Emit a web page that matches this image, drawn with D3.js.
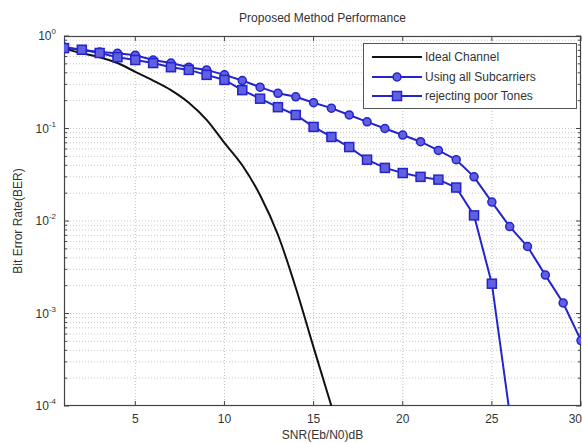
<!DOCTYPE html>
<html><head><meta charset="utf-8">
<script src="https://cdn.jsdelivr.net/npm/d3@7"></script>
<style>body{margin:0;background:#fff}svg{display:block}text{font-family:"Liberation Sans",Arial,sans-serif}</style>
</head><body><svg id="c" width="582" height="443"></svg>
<script>
const snr = d3.range(1, 31);
const ideal = [0.74,0.65,0.59,0.51,0.41,0.33,0.26,0.19,0.124,0.07,0.040,0.019,0.0071,0.0019,0.00043,0.0001];
const allSub = [0.76,0.71,0.67,0.65,0.62,0.55,0.51,0.46,0.43,0.38,0.33,0.28,0.24,0.22,0.19,0.166,0.14,0.118,0.10,0.085,0.072,0.058,0.046,0.030,0.016,0.0087,0.0053,0.0026,0.0013,0.00051];
const rejTones = [0.74,0.71,0.655,0.59,0.55,0.51,0.46,0.43,0.38,0.335,0.26,0.21,0.17,0.14,0.104,0.081,0.063,0.046,0.0375,0.033,0.030,0.028,0.023,0.0115,0.0021,0.000083];
const xTicks = [5,10,15,20,25,30];
const yTicks = [1,0.1,0.01,0.001,0.0001];
const legendLabels = ["Ideal Channel","Using all Subcarriers","rejecting poor Tones"];
const titleText = "Proposed Method Performance";
const xLabel = "SNR(Eb/N0)dB";
const yLabel = "Bit Error Rate(BER)";

const svg = d3.select("#c");
const L=64, R=581, T=36, B=406;
const x = d3.scaleLinear().domain([1,30]).range([L,R]);
const y = d3.scaleLog().domain([1e-4,1]).range([B,T]);
const blue = "#2424cc";

svg.append("defs").append("clipPath").attr("id","clip").append("rect")
  .attr("x",L).attr("y",T).attr("width",R-L).attr("height",B-T);

// grid
const g = svg.append("g");
const minor = [];
for (let e=-4;e<0;e++) for (let m=2;m<=9;m++) minor.push(m*Math.pow(10,e));
g.selectAll(".hm").data(minor).join("line")
  .attr("x1",L).attr("x2",R).attr("y1",d=>y(d)).attr("y2",d=>y(d))
  .attr("stroke","#c8c8c8").attr("stroke-width",1).attr("stroke-dasharray","1,2");
g.selectAll(".hM").data(yTicks.slice(1,-1)).join("line")
  .attr("x1",L).attr("x2",R).attr("y1",d=>y(d)).attr("y2",d=>y(d))
  .attr("stroke","#c8c8c8").attr("stroke-width",1).attr("stroke-dasharray","1,2");
g.selectAll(".vM").data(xTicks.slice(0,-1)).join("line")
  .attr("y1",T).attr("y2",B).attr("x1",d=>x(d)).attr("x2",d=>x(d))
  .attr("stroke","#c0c0c0").attr("stroke-width",1).attr("stroke-dasharray","1,2");

// axes box & ticks
const ax = svg.append("g");
ax.append("rect").attr("x",L+0.5).attr("y",T+0.5).attr("width",R-L-1).attr("height",B-T-1)
  .attr("fill","none").attr("stroke","#444").attr("stroke-width",1.2);
xTicks.forEach(t=>{
  ax.append("line").attr("x1",x(t)).attr("x2",x(t)).attr("y1",B).attr("y2",B-5).attr("stroke","#444");
  ax.append("line").attr("x1",x(t)).attr("x2",x(t)).attr("y1",T).attr("y2",T+5).attr("stroke","#444");
  const last = t===xTicks[xTicks.length-1];
  ax.append("text").attr("x",last?582:x(t)).attr("y",B+17).attr("text-anchor",last?"end":"middle")
    .attr("font-size",12).attr("fill","#333").text(t);
});
minor.concat(yTicks).forEach(t=>{
  const len = yTicks.includes(t)?5:3;
  ax.append("line").attr("x1",L).attr("x2",L+len).attr("y1",y(t)).attr("y2",y(t)).attr("stroke","#444");
  ax.append("line").attr("x1",R).attr("x2",R-len).attr("y1",y(t)).attr("y2",y(t)).attr("stroke","#444");
});
yTicks.forEach(t=>{
  const e = Math.round(Math.log10(t));
  const tx = ax.append("text").attr("x",L-8).attr("y",y(t)+4).attr("text-anchor","end")
    .attr("font-size",12).attr("fill","#333");
  tx.append("tspan").text("10");
  tx.append("tspan").attr("dy",-6).attr("font-size",8).text(e);
});

// lines
const line = d3.line().x(d=>x(d[0])).y(d=>y(d[1]));
const plot = svg.append("g").attr("clip-path","url(#clip)");
const idealData = ideal.map((v,i)=>[snr[i],v]);
const allData = allSub.map((v,i)=>[snr[i],v]);
const rejData = rejTones.map((v,i)=>[snr[i],v]);
plot.append("path").datum(idealData).attr("d",d3.line().curve(d3.curveMonotoneX).x(d=>x(d[0])).y(d=>y(d[1])))
  .attr("fill","none").attr("stroke","#111").attr("stroke-width",2);
plot.append("path").datum(allData).attr("d",line).attr("fill","none").attr("stroke",blue).attr("stroke-width",2);
plot.append("path").datum(rejData).attr("d",line).attr("fill","none").attr("stroke",blue).attr("stroke-width",2);
plot.selectAll(".c").data(allData).join("circle")
  .attr("cx",d=>x(d[0])).attr("cy",d=>y(d[1])).attr("r",4)
  .attr("fill","#6060e0").attr("stroke",blue).attr("stroke-width",1.5);
plot.selectAll(".s").data(rejData).join("rect")
  .attr("x",d=>x(d[0])-4.5).attr("y",d=>y(d[1])-4.5).attr("width",9).attr("height",9)
  .attr("fill","#6060e0").attr("stroke",blue).attr("stroke-width",1.5);

// legend
const lg = svg.append("g");
lg.append("rect").attr("x",363.5).attr("y",43.5).attr("width",213).attr("height",65)
  .attr("fill","#fff").attr("stroke","#555").attr("stroke-width",1);
const ly = [57,77,96];
legendLabels.forEach((lab,i)=>{
  lg.append("line").attr("x1",372).attr("x2",422).attr("y1",ly[i]).attr("y2",ly[i])
    .attr("stroke",i===0?"#111":blue).attr("stroke-width",2);
  if(i===1) lg.append("circle").attr("cx",397).attr("cy",ly[i]).attr("r",4).attr("fill","#6060e0").attr("stroke",blue).attr("stroke-width",1.5);
  if(i===2) lg.append("rect").attr("x",392.5).attr("y",ly[i]-4.5).attr("width",9).attr("height",9).attr("fill","#6060e0").attr("stroke",blue).attr("stroke-width",1.5);
  lg.append("text").attr("x",425).attr("y",ly[i]+4).attr("font-size",12).attr("fill","#333").text(lab);
});

// titles
svg.append("text").attr("x",(L+R)/2).attr("y",22).attr("text-anchor","middle").attr("font-size",12).attr("fill","#333").text(titleText);
svg.append("text").attr("x",(L+R)/2).attr("y",439).attr("text-anchor","middle").attr("font-size",12).attr("fill","#333").text(xLabel);
svg.append("text").attr("transform",`translate(22,${(T+B)/2}) rotate(-90)`).attr("text-anchor","middle").attr("font-size",12).attr("fill","#333").text(yLabel);
</script></body></html>
